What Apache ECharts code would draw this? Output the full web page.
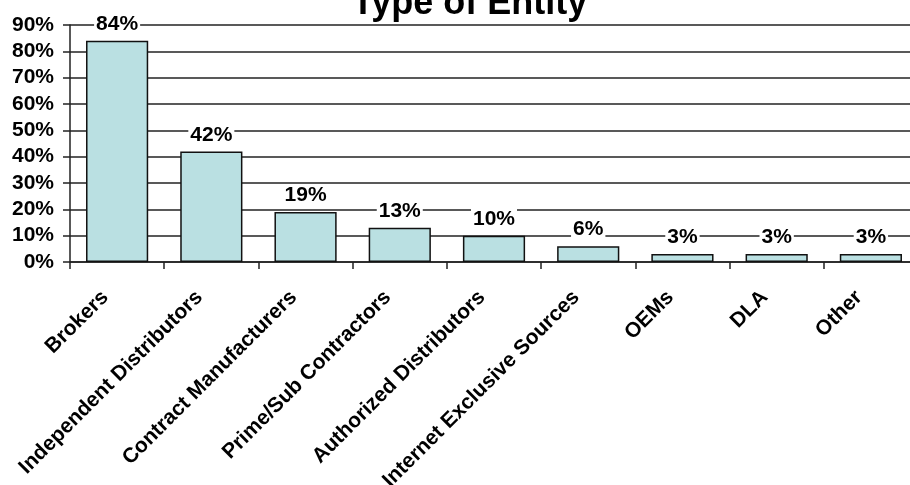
<!DOCTYPE html>
<html>
<head>
<meta charset="utf-8">
<script src="https://cdn.jsdelivr.net/npm/echarts@6/dist/echarts.min.js"></script>
<style>html,body{margin:0;padding:0;background:#fff}#c{width:910px;height:485px}</style>
</head>
<body>
<div id="c"></div>
<script>
var categories = ['Brokers','Independent Distributors','Contract Manufacturers','Prime/Sub Contractors','Authorized Distributors','Internet Exclusive Sources','OEMs','DLA','Other'];
var values = [84, 42, 19, 13, 10, 6, 3, 3, 3];
var titleText = 'Type of Entity';

var FONT = '"Liberation Sans", Arial, sans-serif';
var chart = echarts.init(document.getElementById('c'), null, {renderer: 'canvas'});
chart.setOption({
  animation: false,
  backgroundColor: '#fff',
  title: {
    text: titleText,
    left: 347,
    top: -19,
    textStyle: {fontFamily: FONT, fontWeight: 'bold', fontSize: 36, color: '#000'}
  },
  grid: {left: 70, right: -8, top: 25, bottom: 223, containLabel: false, outerBoundsMode: 'none'},
  xAxis: {
    type: 'category',
    data: categories,
    axisLine: {lineStyle: {color: '#222', width: 1.5}},
    axisTick: {show: true, length: 7, alignWithLabel: false, lineStyle: {color: '#222', width: 1.5}},
    axisLabel: {
      interval: 0, rotate: 45, margin: 20,
      padding: [0, 17, 0, 0],
      fontFamily: FONT, fontWeight: 'bold', fontSize: 21, color: '#000'
    }
  },
  yAxis: {
    type: 'value',
    min: 0, max: 90, interval: 10,
    axisLine: {show: true, lineStyle: {color: '#222', width: 1.5}},
    axisTick: {show: true, length: 7, lineStyle: {color: '#222', width: 1.5}},
    splitLine: {show: true, lineStyle: {color: '#222', width: 1.5}},
    axisLabel: {
      formatter: '{value}%', margin: 16,
      fontFamily: FONT, fontWeight: 'bold', fontSize: 21, color: '#000'
    }
  },
  series: [{
    type: 'bar',
    data: values,
    barCategoryGap: '34%',
    itemStyle: {color: '#BAE0E2', borderColor: '#111', borderWidth: 1.5},
    label: {
      show: true, position: 'top', distance: 6,
      formatter: '{c}%',
      fontFamily: FONT, fontWeight: 'bold', fontSize: 21, color: '#000',
      backgroundColor: '#fff', padding: [0, 2]
    }
  }]
});
</script>
</body>
</html>
